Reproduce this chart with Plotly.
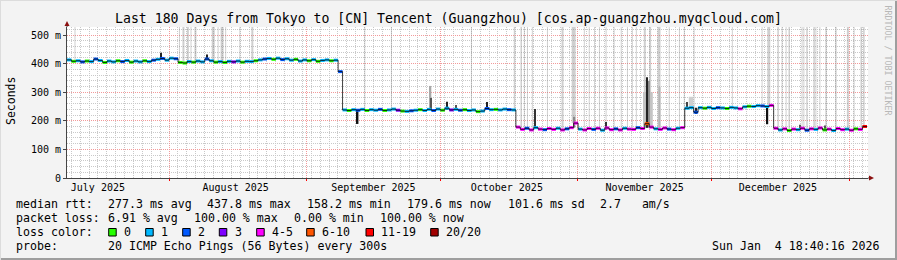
import plotly.graph_objects as go
import pandas as pd

# ---------------- data ----------------
RANGE_START = "2025-07-09 01:12"
RANGE_END = "2026-01-05 06:36"
Y_MAX = 528

# daily median RTT (ms), 180 days
median_seg1 = [413, 408, 410, 406, 409, 407, 416, 411, 404, 409,
               406, 410, 407, 411, 405, 409, 406, 410, 407, 412,
               415, 418, 412, 419, 417, 404, 402, 407, 405, 409,
               406, 416, 410, 405, 407, 404, 408, 406, 409, 405,
               408, 407, 410, 413, 416, 418, 415, 419, 414, 417,
               412, 415, 409, 413, 410, 414, 408, 411, 413, 410,
               412, 372]
median_seg2 = [238, 236, 239, 237, 240, 236, 239, 237, 240, 236,
               238, 241, 237, 234, 233, 235, 237, 239, 236, 240,
               236, 241, 237, 244, 238, 240, 237, 239, 236, 238,
               232, 234, 243, 239, 240, 238, 241, 239, 238]
median_seg3 = [178, 170, 174, 168, 176, 171, 169, 173, 170, 174,
               168, 172, 176, 192, 171, 168, 173, 170, 174, 167,
               175, 169, 172, 168, 174, 171, 170, 176, 173, 190,
               178, 172, 170, 175, 171, 169, 174, 176]
median_seg4 = [244, 246, 230, 246, 244, 247, 243, 246, 245, 243,
               247, 245, 242, 249, 251, 250, 253, 252, 250, 254]
median_seg5 = [174, 168, 172, 166, 171, 169, 174, 167, 172, 170,
               175, 168, 171, 166, 173, 169, 171, 167, 172, 170,
               180]

# loss class index per day (0:"0",1:"1",2:"2",3:"3",4:"4-5",5:"6-10",6:"11-19",7:"20/20")
loss_seg1 = [1, 0, 1, 2, 0, 1, 2, 1, 0, 1,
             1, 0, 2, 1, 0, 1, 1, 0, 1, 2,
             1, 2, 1, 1, 2, 0, 0, 1, 0, 1,
             1, 2, 1, 0, 1, 0, 1, 3, 1, 0,
             1, 1, 0, 1, 2, 1, 0, 1, 2, 1,
             1, 0, 1, 1, 0, 1, 0, 1, 1, 0,
             1, 2]
loss_seg2 = [1, 0, 1, 2, 1, 0, 1, 1, 2, 0,
             1, 1, 3, 0, 1, 2, 1, 0, 1, 1,
             2, 1, 0, 1, 3, 1, 2, 0, 1, 1,
             0, 1, 2, 1, 0, 1, 1, 2, 1]
loss_seg3 = [4, 4, 2, 4, 1, 4, 2, 4, 4, 1,
             4, 2, 4, 4, 1, 4, 4, 2, 4, 1,
             4, 4, 2, 4, 1, 4, 4, 2, 4, 5,
             4, 1, 4, 4, 2, 4, 1, 4]
loss_seg4 = [1, 1, 2, 1, 0, 1, 1, 2, 1, 0,
             1, 1, 4, 1, 0, 1, 1, 2, 1, 4]
loss_seg5 = [4, 1, 4, 0, 4, 1, 4, 2, 4, 1,
             4, 0, 4, 1, 4, 4, 1, 4, 0, 4,
             6]

loss_colors = ["#26ff00", "#00b8ff", "#0059ff", "#7e00ff",
               "#ff00ff", "#ff5500", "#ff0000", "#a10000"]
loss_labels = ["0", "1", "2", "3", "4-5", "6-10", "11-19", "20/20"]

# light smoke stripes reaching the top (day offset, width in days)
stripe_day = [1.8, 25.3, 26.2, 27.2, 27.9, 28.9, 32.9, 34.0, 34.9, 35.7, 38.9, 41.7,
              67.0, 73.0, 91.0,
              100.7, 102.2, 102.9, 103.6, 104.7, 108.1, 111.5, 114.0, 116.4, 117.5,
              118.7, 119.8, 121.3, 123.1, 124.7, 126.1, 127.2, 128.1, 130.0, 131.2,
              133.2, 135.5, 137.8, 138.9,
              141.1, 149.7, 156.4, 157.9,
              160.0, 160.9, 161.8, 162.5, 165.4, 165.8, 166.5, 168.1, 168.5, 169.4,
              170.8, 173.0, 175.7, 177.1, 178.7, 179.3]
stripe_width = [0.22, 0.22, 0.45, 0.45, 0.22, 0.45, 0.67, 0.22, 0.67, 0.22, 0.22, 0.45,
                0.22, 0.22, 0.22,
                0.34, 0.34, 0.22, 0.22, 0.22, 0.22, 0.45, 0.9, 0.22, 0.22,
                0.22, 0.22, 0.22, 0.22, 0.22, 0.22, 0.22, 0.22, 0.45, 0.45,
                0.67, 0.22, 0.22, 0.22,
                0.22, 0.22, 0.22, 0.67,
                0.34, 0.22, 0.22, 0.34, 0.22, 0.22, 0.34, 0.34, 0.22, 0.22,
                0.34, 0.34, 0.45, 0.22, 0.34, 0.34]

# partial smoke / spikes (day, low ms, high ms, width days, colour)
spike_day = [21.1, 31.6, 65.4, 81.8, 81.8, 85.6, 87.6, 94.6, 105.4, 114.2,
             121.3, 130.7, 130.7, 130.6, 133.3, 140.4, 139.6, 141.6, 157.6, 165.0, 170.5]
spike_lo = [418, 416, 189, 240, 240, 238, 238, 239, 172, 176,
            170, 176, 176, 176, 172, 246, 244, 224, 188, 170, 170]
spike_hi = [438, 432, 237, 322, 280, 267, 255, 266, 241, 214,
            196, 300, 340, 352, 318, 284, 266, 246, 250, 186, 184]
spike_width = [0.22, 0.22, 0.34, 0.34, 0.22, 0.22, 0.22, 0.22, 0.22, 0.34,
               0.22, 2.2, 0.9, 0.22, 0.45, 1.0, 0.22, 0.22, 0.34, 0.22, 0.22]
spike_color = ["#222222", "#222222", "#111111", "#a8a8a8", "#555555", "#222222", "#555555",
               "#222222", "#333333", "#8a8a8a", "#333333", "#c4c4c4", "#8a8a8a", "#222222",
               "#b4b4b4", "#cfcfcf", "#444444", "#222222", "#111111", "#555555", "#555555"]

month_label_dates = ["2025-07-16", "2025-08-16", "2025-09-16", "2025-10-16", "2025-11-16", "2025-12-16"]
month_labels = ["July 2025", "August 2025", "September 2025", "October 2025", "November 2025", "December 2025"]
month_starts = ["2025-08-01", "2025-09-01", "2025-10-01", "2025-11-01", "2025-12-01", "2026-01-01"]
y_tickvals = [0, 100, 200, 300, 400, 500]
y_ticktext = ["0", "100 m", "200 m", "300 m", "400 m", "500 m"]

title_text = "Last 180 Days from Tokyo to [CN] Tencent (Guangzhou) [cos.ap-guangzhou.myqcloud.com]"
rtt_items = [("277.3 ms avg", 107.3), ("437.8 ms max", 207.0), ("158.2 ms min", 307.0),
             ("179.6 ms now", 406.7), ("101.6 ms sd", 507.7), ("2.7   am/s", 600.0)]
loss_items = [("6.91 % avg", 107.3), ("100.00 % max", 193.3), ("0.00 % min", 293.3),
              ("100.00 % now", 380.0)]
box_x = [108.7, 145.7, 182.7, 219.3, 256.7, 306.7, 366.0, 430.7]
probe_text = "20 ICMP Echo Pings (56 Bytes) every 300s"
date_text = "Sun Jan  4 18:40:16 2026"

# ---------------- layout constants (pixels) ----------------
W, H = 897, 260
L, R, T, B = 67, 868, 27, 178
FONT = "DejaVu Sans Mono"
DAY_MS = 86400000

median_ms = median_seg1 + median_seg2 + median_seg3 + median_seg4 + median_seg5
loss_idx = loss_seg1 + loss_seg2 + loss_seg3 + loss_seg4 + loss_seg5
t0 = pd.Timestamp(RANGE_START)


def tday(d):
    return t0 + pd.to_timedelta(d, unit="D")


def px(x):
    return (x - L) / (R - L)


def py(y):
    return (B - y) / (B - T)


fig = go.Figure()

# light stripes
s_base = [median_ms[min(int(d), len(median_ms) - 1)] for d in stripe_day]
fig.add_trace(go.Bar(
    x=[tday(d) for d in stripe_day], base=s_base, y=[Y_MAX - b for b in s_base],
    width=[w * DAY_MS for w in stripe_width],
    marker=dict(color="rgba(140,140,140,0.42)", line=dict(width=0)),
    hoverinfo="skip", showlegend=False))

# spikes
fig.add_trace(go.Bar(
    x=[tday(d) for d in spike_day], base=spike_lo,
    y=[h - l for h, l in zip(spike_hi, spike_lo)],
    width=[w * DAY_MS for w in spike_width],
    marker=dict(color=spike_color, line=dict(width=0)),
    hoverinfo="skip", showlegend=False))

times = [tday(i) for i in range(len(median_ms) + 1)]

# colored median segments by loss
for k, col in enumerate(loss_colors):
    xs, ys = [], []
    for i, (v, c) in enumerate(zip(median_ms, loss_idx)):
        if c == k:
            xs += [times[i], times[i + 1], None]
            ys += [v, v, None]
    if xs:
        fig.add_trace(go.Scatter(
            x=xs, y=ys, mode="lines", line=dict(color=col, width=3),
            hoverinfo="skip", showlegend=False))

# black median step line on top
fig.add_trace(go.Scatter(
    x=times, y=median_ms + [median_ms[-1]], mode="lines",
    line=dict(color="rgba(0,0,0,0.75)", width=1, shape="hv"),
    hoverinfo="skip", showlegend=False))

# dummy trace for overlay axis (month-start grid)
fig.add_trace(go.Scatter(x=[t0], y=[0], xaxis="x2", mode="markers",
                         marker=dict(opacity=0), hoverinfo="skip", showlegend=False))

GRID_MINOR = "#c9c9c9"
GRID_MAJOR = "#f29a9a"
DOT = "1px,1px"

fig.update_layout(
    width=W, height=H, autosize=False,
    margin=dict(l=L, r=W - R, t=T, b=H - B, pad=0),
    paper_bgcolor="#f3f3f3", plot_bgcolor="#ffffff",
    barmode="overlay", showlegend=False,
    font=dict(family=FONT, size=10, color="#000000"),
    title=dict(text=title_text, x=0.5, xref="container", xanchor="center",
               y=1 - 18.5 / H, yref="container", yanchor="middle",
               font=dict(family=FONT, size=13.2, color="#000000")),
    xaxis=dict(type="date", range=[RANGE_START, RANGE_END],
               tickvals=month_label_dates, ticktext=month_labels,
               showgrid=False, zeroline=False, ticks="",
               showline=True, linecolor="#444444", linewidth=1,
               tickfont=dict(family=FONT, size=10),
               minor=dict(dtick=2 * DAY_MS, tick0="2025-08-01", showgrid=True,
                          gridcolor=GRID_MINOR, griddash=DOT, gridwidth=1, ticks="")),
    xaxis2=dict(type="date", range=[RANGE_START, RANGE_END], overlaying="x",
                side="bottom", tickvals=month_starts, showticklabels=False,
                showgrid=True, gridcolor=GRID_MAJOR, griddash=DOT, gridwidth=1,
                ticks="outside", ticklen=2, tickcolor="#ff0000", zeroline=False),
    yaxis=dict(range=[0, Y_MAX], tickvals=y_tickvals, ticktext=y_ticktext,
               showgrid=True, gridcolor=GRID_MAJOR, griddash=DOT, gridwidth=1,
               zeroline=False, showline=True, linecolor="#444444", linewidth=1,
               ticks="outside", ticklen=3, tickcolor="#444444",
               tickfont=dict(family=FONT, size=10),
               minor=dict(dtick=20, showgrid=True, gridcolor=GRID_MINOR,
                          griddash=DOT, gridwidth=1, ticks="")),
)

ann = []


def add_text(text, x, y, size=11.6, anchor="left", color="#000000", angle=0):
    ann.append(dict(text=text.replace(" ", "\u00a0"), x=px(x), y=py(y), xref="paper", yref="paper",
                    xanchor=anchor, yanchor="middle", showarrow=False, borderpad=0,
                    textangle=angle, font=dict(family=FONT, size=size, color=color)))


Y1, Y2, Y3, Y4 = 204.0, 218.0, 232.0, 246.0
add_text("median rtt:", 15.3, Y1)
for txt, x in rtt_items:
    add_text(txt, x - 0.8, Y1)
add_text("packet loss:", 15.3, Y2)
for txt, x in loss_items:
    add_text(txt, x - 0.8, Y2)
add_text("loss color:", 15.3, Y3)
shapes = []
for bx, col, lab in zip(box_x, loss_colors, loss_labels):
    shapes.append(dict(type="rect", xref="paper", yref="paper",
                       x0=px(bx), x1=px(bx + 7.5), y0=py(236), y1=py(228.5),
                       fillcolor=col, line=dict(color="#000000", width=1)))
    add_text(lab, bx + 14.2, Y3)
add_text("probe:", 15.3, Y4)
add_text(probe_text, 106.5, Y4)
add_text(date_text, 881, Y4, anchor="right")
add_text("Seconds", 11, 101, size=11.5, anchor="center", angle=-90)
add_text("RRDTOOL / TOBI OETIKER", 887.5, 60, size=8.3, anchor="center", color="#b8b8b8", angle=90)

# axis arrows and extension
shapes.append(dict(type="line", xref="paper", yref="paper", x0=px(L), x1=px(L),
                   y0=py(T), y1=py(24), line=dict(color="#444444", width=1)))
shapes.append(dict(type="path", xref="paper", yref="paper",
                   path=f"M {px(64.5)} {py(26)} L {px(69.5)} {py(26)} L {px(67)} {py(21)} Z",
                   fillcolor="#8b1010", line=dict(width=0)))
shapes.append(dict(type="line", xref="paper", yref="paper", x0=px(R), x1=px(870),
                   y0=py(B), y1=py(B), line=dict(color="#444444", width=1)))
shapes.append(dict(type="path", xref="paper", yref="paper",
                   path=f"M {px(869)} {py(175.5)} L {px(869)} {py(180.5)} L {px(874)} {py(178)} Z",
                   fillcolor="#8b1010", line=dict(width=0)))
# figure border (rrdtool style shading)
shapes.append(dict(type="line", xref="paper", yref="paper", x0=px(0), x1=px(W),
                   y0=py(H - 1), y1=py(H - 1), line=dict(color="#9e9e9e", width=2)))
shapes.append(dict(type="line", xref="paper", yref="paper", x0=px(W - 1), x1=px(W - 1),
                   y0=py(0), y1=py(H), line=dict(color="#9e9e9e", width=2)))
shapes.append(dict(type="line", xref="paper", yref="paper", x0=px(0), x1=px(W),
                   y0=py(0.5), y1=py(0.5), line=dict(color="#dcdcdc", width=1)))
shapes.append(dict(type="line", xref="paper", yref="paper", x0=px(0.5), x1=px(0.5),
                   y0=py(0), y1=py(H), line=dict(color="#dcdcdc", width=1)))

fig.update_layout(annotations=ann, shapes=shapes)
fig.write_html("out.html")
